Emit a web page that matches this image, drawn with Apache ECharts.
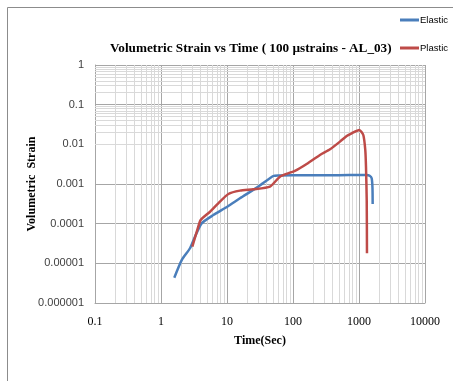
<!DOCTYPE html>
<html>
<head>
<meta charset="utf-8">
<script src="https://cdn.jsdelivr.net/npm/echarts@6/dist/echarts.min.js"></script>
<style>
  html, body { margin: 0; padding: 0; background: #fff; }
  #chart { width: 453px; height: 381px; }
</style>
</head>
<body>
<div id="chart"></div>
<script>
// Time (s) and volumetric strain readings for the two components
const elasticTime = [1.59, 2.06, 2.75, 3.27, 4.13, 6.2, 10.1, 15.7, 29.8, 50.3, 60, 100, 200, 500, 1000, 1307, 1450, 1556, 1600, 1611];
const elasticStrain = [4.35e-6, 1.21e-5, 2.4e-5, 4.7e-5, 1.02e-4, 1.65e-4, 2.68e-4, 4.36e-4, 8.6e-4, 1.59e-3, 1.64e-3, 1.65e-3, 1.65e-3, 1.67e-3, 1.68e-3, 1.68e-3, 1.62e-3, 1.39e-3, 8e-4, 3.13e-4];

const plasticTime = [2.98, 3.55, 3.99, 5.53, 7.38, 10.5, 15.7, 25, 44.8, 63.5, 90.1, 107, 161, 256, 364, 515, 651, 775, 1011, 1162, 1245, 1276, 1309, 1321];
const plasticStrain = [2.63e-5, 6.93e-5, 1.24e-4, 2.0e-4, 3.26e-4, 5.6e-4, 6.8e-4, 7.35e-4, 8.6e-4, 1.53e-3, 1.93e-3, 2.13e-3, 3.19e-3, 5.4e-3, 7.5e-3, 1.17e-2, 1.62e-2, 1.9e-2, 2.3e-2, 1.72e-2, 7.2e-3, 2.73e-3, 3.95e-4, 1.79e-5];

// Tick labels, one per decade
const xTickLabels = ['0.1', '1', '10', '100', '1000', '10000'];
const yTickLabels = ['0.000001', '0.00001', '0.0001', '0.001', '0.01', '0.1', '1'];

// Intermediate (2..9) log grid positions inside each decade
function minorValues(minExp, maxExp) {
  const out = [];
  for (let e = minExp; e < maxExp; e++) {
    for (let m = 2; m <= 9; m++) out.push(m * Math.pow(10, e));
  }
  return out;
}
const xMinor = minorValues(-1, 4);
const yMinor = minorValues(-6, 0);

const pair = (xs, ys) => xs.map((x, i) => [x, ys[i]]);

const chart = echarts.init(document.getElementById('chart'), null, { renderer: 'canvas' });

const minorLines = []
  .concat(xMinor.map(v => ({ xAxis: v })))
  .concat(yMinor.map(v => ({ yAxis: v })));

chart.setOption({
  animation: false,
  backgroundColor: '#ffffff',
  title: {
    text: 'Volumetric Strain vs Time ( 100 \u00b5strains - AL_03)',
    left: 105,
    top: 37,
    textStyle: {
      fontFamily: 'Liberation Serif',
      fontWeight: 'bold',
      fontSize: 13.2,
      color: '#000'
    }
  },
  legend: {
    orient: 'vertical',
    right: 0,
    top: 10,
    itemGap: 18,
    itemWidth: 19,
    itemHeight: 3,
    data: ['Elastic', 'Plastic'],
    icon: 'rect',
    textStyle: {
      fontFamily: 'Liberation Sans',
      fontSize: 9.5,
      color: '#000',
      padding: [0, 0, 0, -4]
    }
  },
  graphic: [
    {
      type: 'polyline',
      shape: { points: [[7.5, 381], [7.5, 7.5], [453, 7.5]] },
      style: { stroke: '#8c8c8c', lineWidth: 1, fill: null },
      silent: true
    }
  ],
  grid: { left: 95, top: 65, right: 28, bottom: 78 },
  xAxis: {
    type: 'log',
    logBase: 10,
    min: 0.1,
    max: 10000,
    name: 'Time(Sec)',
    nameLocation: 'middle',
    nameGap: 32,
    nameMoveOverlap: false,
    nameTextStyle: {
      fontFamily: 'Liberation Serif',
      fontWeight: 'bold',
      fontSize: 12,
      color: '#000'
    },
    axisLine: { show: true, lineStyle: { color: '#a6a6a6' } },
    axisTick: { show: false },
    axisLabel: {
      margin: 13,
      fontFamily: 'Liberation Serif',
      fontSize: 12,
      color: '#000',
      formatter: v => xTickLabels[Math.round(Math.log10(v)) + 1]
    },
    splitLine: { show: true, lineStyle: { color: '#a6a6a6', width: 1 } }
  },
  yAxis: {
    type: 'log',
    logBase: 10,
    min: 1e-6,
    max: 1,
    name: 'Volumetric  Strain',
    nameLocation: 'middle',
    nameGap: 57,
    nameMoveOverlap: false,
    nameRotate: 90,
    nameTextStyle: {
      fontFamily: 'Liberation Serif',
      fontWeight: 'bold',
      fontSize: 12,
      color: '#000'
    },
    axisLine: { show: true, lineStyle: { color: '#a6a6a6' } },
    axisTick: { show: false },
    axisLabel: {
      margin: 11,
      fontFamily: 'Liberation Sans',
      fontSize: 11,
      color: '#404040',
      formatter: v => yTickLabels[Math.round(Math.log10(v)) + 6]
    },
    splitLine: { show: true, lineStyle: { color: '#a6a6a6', width: 1 } }
  },
  series: [
    {
      name: 'minor grid',
      type: 'line',
      data: [[1, 1e-3]],
      showSymbol: false,
      symbol: 'none',
      lineStyle: { opacity: 0 },
      silent: true,
      z: 1,
      markLine: {
        z: 1,
        silent: true,
        symbol: ['none', 'none'],
        label: { show: false },
        lineStyle: { color: '#d9d9d9', width: 1, type: 'solid' },
        emphasis: { disabled: true },
        animation: false,
        data: minorLines
      }
    },
    {
      name: 'Elastic',
      type: 'line',
      data: pair(elasticTime, elasticStrain),
      showSymbol: false,
      symbol: 'none',
      smooth: 0.2,
      z: 3,
      itemStyle: { color: '#4a7ebb' },
      lineStyle: { color: '#4a7ebb', width: 2.5 }
    },
    {
      name: 'Plastic',
      type: 'line',
      data: pair(plasticTime, plasticStrain),
      showSymbol: false,
      symbol: 'none',
      smooth: 0.2,
      z: 4,
      itemStyle: { color: '#be4b48' },
      lineStyle: { color: '#be4b48', width: 2.5 }
    }
  ]
});
</script>
</body>
</html>
